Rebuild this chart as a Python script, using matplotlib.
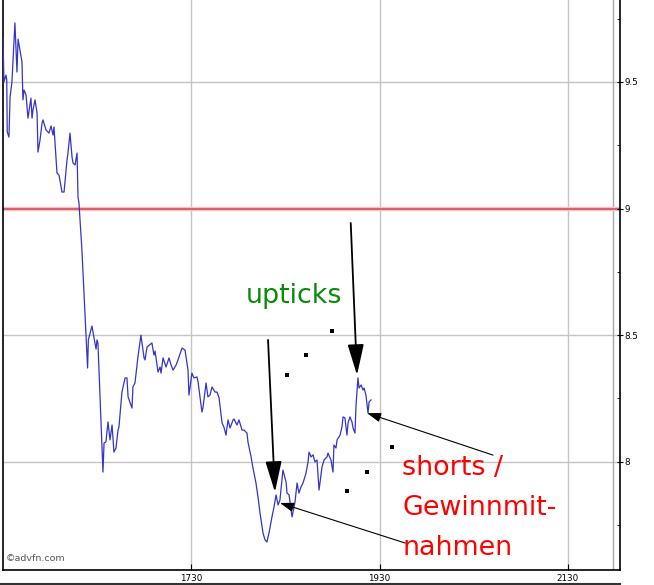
import matplotlib
matplotlib.use("Agg")
import matplotlib.pyplot as plt
from matplotlib.lines import Line2D

# minutes after 15:30 and price
minutes = [0.0, 0.6, 1.9, 2.4, 2.7, 3.8, 4.5, 5.7, 7.6, 8.9, 9.6, 10.8, 12.1, 12.7, 13.4,
           14.7, 15.9, 17.8, 18.5, 19.1, 20.4, 21.7, 22.3, 23.6, 24.9, 25.5, 27.4, 29.3,
           30.6, 31.9, 32.5, 34.4, 35.7, 37.6, 38.9, 40.8, 41.4, 42.7, 44.0, 44.6, 45.9,
           47.2, 47.8, 48.4, 50.3, 53.9, 54.4, 56.7, 58.0, 59.3, 59.9, 60.5, 63.7, 64.4,
           65.6, 66.9, 68.2, 69.5, 70.7, 72.0, 73.3, 73.9, 75.8, 77.8, 79.0, 79.7, 82.2,
           82.8, 84.1, 86.0, 87.9, 89.9, 90.5, 91.8, 94.9, 96.2, 96.9, 98.8, 100.1, 100.7,
           102.0, 103.9, 105.8, 107.1, 108.4, 110.3, 111.5, 114.1, 116.0, 117.9, 118.5,
           120.4, 121.7, 123.6, 124.3, 126.8, 127.5, 129.4, 130.6, 131.9, 133.2, 135.1,
           136.4, 137.7, 139.6, 140.8, 142.1, 143.4, 144.7, 146.6, 147.2, 149.1, 150.4,
           152.3, 153.6, 155.5, 156.1, 158.1, 159.3, 161.2, 162.5, 163.8, 165.7, 167.0,
           168.2, 169.5, 171.4, 172.7, 174.0, 175.3, 176.5, 178.4, 180.4, 181.0, 182.3,
           184.2, 186.1, 187.4, 188.6, 189.9, 191.2, 193.1, 194.4, 195.0, 196.3, 197.6,
           198.8, 200.1, 201.4, 203.3, 204.6, 206.5, 207.1, 209.0, 210.3, 210.9, 212.2,
           212.9, 214.8, 216.0, 216.7, 217.9, 219.2, 219.9, 221.1, 222.4, 223.1, 224.3,
           225.0, 226.2, 226.9, 228.2, 229.4, 230.1, 231.3, 232.6, 233.3, 234.5]
price = [9.673, 9.500, 9.527, 9.507, 9.302, 9.282, 9.440, 9.500, 9.733, 9.539, 9.669, 9.626,
         9.579, 9.429, 9.468, 9.448, 9.357, 9.436, 9.357, 9.389, 9.429, 9.377, 9.223, 9.271,
         9.338, 9.350, 9.310, 9.298, 9.326, 9.290, 9.322, 9.140, 9.132, 9.065, 9.065, 9.192,
         9.219, 9.298, 9.203, 9.180, 9.172, 9.219, 9.045, 9.022, 8.836, 8.370, 8.481, 8.536,
         8.489, 8.445, 8.481, 8.469, 7.959, 8.074, 8.078, 8.157, 8.086, 8.145, 8.038, 8.054,
         8.125, 8.137, 8.275, 8.331, 8.331, 8.256, 8.212, 8.295, 8.311, 8.414, 8.500, 8.410,
         8.402, 8.453, 8.469, 8.421, 8.437, 8.354, 8.374, 8.350, 8.410, 8.374, 8.410, 8.382,
         8.362, 8.382, 8.402, 8.449, 8.441, 8.362, 8.263, 8.350, 8.331, 8.335, 8.315, 8.196,
         8.216, 8.311, 8.256, 8.263, 8.295, 8.275, 8.275, 8.252, 8.153, 8.137, 8.105, 8.165,
         8.133, 8.165, 8.169, 8.145, 8.165, 8.125, 8.125, 8.113, 8.078, 8.019, 7.975, 7.916,
         7.861, 7.797, 7.718, 7.691, 7.683, 7.718, 7.782, 7.821, 7.869, 7.829, 7.849, 7.967,
         7.920, 7.876, 7.869, 7.782, 7.841, 7.916, 7.876, 7.900, 7.916, 7.955, 7.999, 8.038,
         8.019, 8.027, 7.999, 8.007, 7.888, 7.979, 8.007, 8.019, 8.034, 8.007, 7.959, 8.066,
         8.054, 8.086, 8.105, 8.137, 8.177, 8.173, 8.105, 8.153, 8.177, 8.157, 8.133, 8.113,
         8.224, 8.331, 8.291, 8.303, 8.283, 8.291, 8.263, 8.192, 8.236, 8.244]

x_ticks = [120, 240, 360]
x_labels = ["1730", "1930", "2130"]
y_ticks = [8, 8.5, 9, 9.5]
y_labels = ["8", "8.5", "9", "9.5"]
y_minor = [7.75, 8.25, 8.75, 9.25, 9.75]
ref_level = 9.0

dot_minutes = [181.0, 193.1, 209.7, 247.9, 232.0, 219.2]
dot_prices = [8.342, 8.421, 8.516, 8.058, 7.959, 7.884]

fig = plt.figure(figsize=(6.54, 5.85), dpi=100)
ax = fig.add_axes([3 / 654, 15 / 585, 617 / 654, 570 / 585])
ax.set_xlim(0, 393.2)
ax.set_ylim(7.5723, 9.8235)

# grid
for xt in x_ticks:
    ax.axvline(xt, color="#c4c4c4", lw=1.0, zorder=0)
for yt in y_ticks:
    ax.axhline(yt, color="#c4c4c4", lw=1.0, zorder=0)
ax.axvline(388.6, color="#a8a8a8", lw=1.0, zorder=0)
ax.axhline(ref_level, color="#f2c8cc", lw=3.2, zorder=1)
ax.axhline(ref_level, color="#d9606c", lw=1.5, zorder=1)

ax.plot(minutes, price, color="#3434c8", lw=0.9, zorder=3)

ax.scatter(dot_minutes, dot_prices, s=5, marker="s", color="black", lw=0, zorder=4)

# arrows
big = dict(arrowstyle="-|>,head_length=0.95,head_width=0.25", color="black",
           lw=1.3, shrinkA=0, shrinkB=0, mutation_scale=20)
small = dict(arrowstyle="-|>,head_length=0.6,head_width=0.2", color="black",
             lw=0.8, shrinkA=0, shrinkB=0, mutation_scale=14)
ax.annotate("", xy=(173.3, 7.880), xytext=(168.9, 8.481), arrowprops=big, zorder=5)
ax.annotate("", xy=(225.6, 8.342), xytext=(221.6, 8.943), arrowprops=big, zorder=5)
ax.annotate("", xy=(232.0, 8.192), xytext=(312.3, 8.026), arrowprops=small, zorder=5)
ax.annotate("", xy=(176.5, 7.837), xytext=(256.2, 7.679), arrowprops=small, zorder=5)

ax.text(154.5, 8.627, "upticks", color="#0a8a0a", fontsize=19.4,
        family="DejaVu Sans", va="baseline", ha="left")
ax.text(254.5, 7.948, "shorts /", color="#ff0000", fontsize=19.4,
        family="DejaVu Sans", va="baseline", ha="left")
ax.text(254.5, 7.790, "Gewinnmit-", color="#ff0000", fontsize=19.4,
        family="DejaVu Sans", va="baseline", ha="left")
ax.text(254.5, 7.632, "nahmen", color="#ff0000", fontsize=19.4,
        family="DejaVu Sans", va="baseline", ha="left")

ax.text(0.005, 0.012, "©advfn.com", transform=ax.transAxes, fontsize=6.8,
        color="#555555", va="bottom", ha="left")

# axes styling
ax.set_xticks(x_ticks)
ax.set_xticklabels(x_labels)
ax.set_yticks(y_ticks)
ax.set_yticklabels(y_labels)
ax.set_yticks(y_minor, minor=True)
ax.yaxis.tick_right()
ax.tick_params(axis="x", direction="in", length=4, pad=3, labelsize=6.3, colors="black")
ax.tick_params(axis="y", which="major", direction="inout", length=5, pad=1, labelsize=6.3)
ax.tick_params(axis="y", which="minor", direction="in", length=2)
ax.spines["top"].set_visible(False)
for side in ["left", "bottom", "right"]:
    ax.spines[side].set_color("black")
    ax.spines[side].set_linewidth(1.2)

fig.add_artist(Line2D([0, 620 / 654], [1.5 / 585, 1.5 / 585], color="#333333", lw=1.5))

fig.savefig("out.png", dpi=100)
